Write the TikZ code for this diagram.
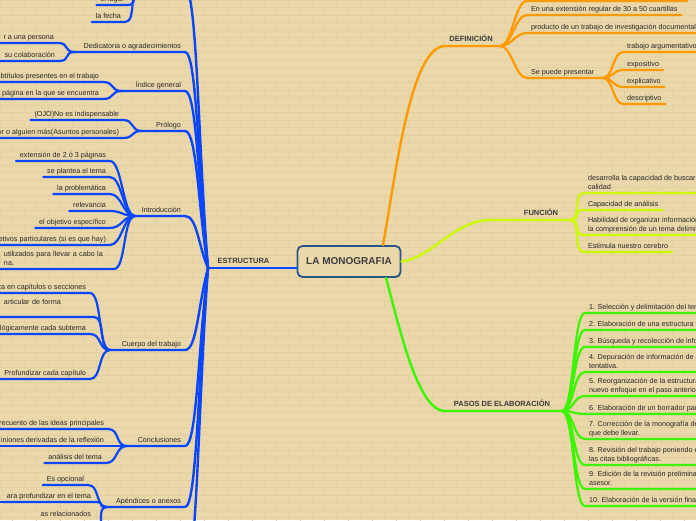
\documentclass[tikz,border=0pt]{standalone}
\usepackage{fontspec}
\setmainfont{Liberation Sans}
\usetikzlibrary{calc}

\definecolor{fondo}{RGB}{234,215,170}
\definecolor{junta}{RGB}{227,207,160}
\definecolor{texto}{RGB}{40,40,40}
\definecolor{titulo}{RGB}{60,60,60}
\definecolor{borde}{RGB}{40,85,135}
\definecolor{azul}{RGB}{10,70,255}
\definecolor{naranja}{RGB}{255,153,0}
\definecolor{lima}{RGB}{204,250,0}
\definecolor{verde}{RGB}{60,245,0}

\begin{document}
\begin{tikzpicture}[x=1pt, y=-1pt,
  hijo/.style={font=\fontsize{7.2}{9}\selectfont, text=texto, align=left,
    inner xsep=4pt, inner ysep=0.8pt, outer sep=0pt, execute at end node=\strut},
  rama/.style={hijo},
  titulo/.style={font=\bfseries\fontsize{7.5}{9}\selectfont, text=titulo, anchor=base},
  centro/.style={draw=borde, line width=1.8pt, fill=fondo, rounded corners=5pt,
    minimum width=103pt, minimum height=31pt, text=titulo,
    font=\bfseries\fontsize{10}{12}\selectfont},
  ladrillo/.style={draw=junta, line width=0.4pt},
  azul/.style={draw=azul, line width=2.4pt, line cap=round},
  azulh/.style={draw=azul, line width=2.2pt, line cap=round},
  naranja/.style={draw=naranja, line width=2.4pt, line cap=round},
  naranjah/.style={draw=naranja, line width=2.2pt, line cap=round},
  lima/.style={draw=lima, line width=2.4pt, line cap=round},
  limah/.style={draw=lima, line width=2.2pt, line cap=round},
  verde/.style={draw=verde, line width=2.4pt, line cap=round},
  verdeh/.style={draw=verde, line width=2.2pt, line cap=round}]

  \path[use as bounding box] (0,0) rectangle (696,520);
  \clip (0,0) rectangle (696,520);

  % fondo de ladrillos
  \fill[fondo] (0,0) rectangle (696,520);
  \foreach \f in {0,...,69}{
    \draw[ladrillo] (0,{\f*7.5}) -- (696,{\f*7.5});
    \foreach \c in {0,...,29}
      \draw[ladrillo] ({\c*24+mod(\f,2)*12},{\f*7.5}) -- ++(0,7.5);
  }

  % nodo central
  \node[centro] (mono) at (349,261.5) {LA MONOGRAFIA};

  % ---------------- ESTRUCTURA ----------------
  \coordinate (est) at (208,268);
  \node[titulo] (estlbl) at (243.5,263) {ESTRUCTURA};
  \draw[azul] (est) -- (est -| mono.west);

  \node[rama, anchor=south east] (dedic) at (185,52) {Dedicatoria o agradecimientos};
  \node[rama, anchor=south east] (indice) at (185,91) {Índice general};
  \node[rama, anchor=south east] (prologo) at (185,131) {Prólogo};
  \node[rama, anchor=south east] (intro) at (185,216) {Introducción};
  \node[rama, anchor=south east] (cuerpo) at (185,350) {Cuerpo del trabajo};
  \node[rama, anchor=south east] (concl) at (185,446) {Conclusiones};
  \node[rama, anchor=south east] (apend) at (185,507) {Apéndices o anexos};

  \coordinate (arriba) at (185,-12);
  \coordinate (abajo) at (185,575);
  \coordinate (harriba) at (140,-12);
  \coordinate (hdedic) at (75,52);
  \coordinate (hindice) at (122,91);
  \coordinate (hprologo) at (142,131);
  \coordinate (hintro) at (135,216);
  \coordinate (hcuerpo) at (110,350);
  \coordinate (hconcl) at (127,446);
  \coordinate (hapend) at (107,507);

  \foreach \r/\yb in {dedic/52, indice/91, prologo/131, intro/216, cuerpo/350, concl/446, apend/507}
    \draw[azul] (est) .. controls +(-10,{0.45*(\yb-268)}) and +(12,0) .. (\r.south east) -- (h\r);
  \draw[azul] (est) .. controls +(-10,{0.45*(-12-268)}) and +(12,0) .. (arriba) -- (harriba);
  \draw[azul] (est) .. controls +(-10,{0.45*(575-268)}) and +(12,0) .. (abajo);

  % hijos de la izquierda
  \node[hijo, anchor=south east] (ar1) at (128,5) {el lugar};
  \node[hijo, anchor=south east] (ar2) at (125,22) {la fecha};
  \node[hijo, anchor=south east] (de1) at (58,43) {r a una persona};
  \node[hijo, anchor=south east] (de2) at (59,61) {su colaboración};
  \node[hijo, anchor=south east] (in1) at (103,82) {ubtítulos presentes en el trabajo};
  \node[hijo, anchor=south east] (in2) at (103,99) {a página en la que se encuentra};
  \node[hijo, anchor=south east] (pr1) at (123,120) {(OJO)No es indispensable};
  \node[hijo, anchor=south east] (pr2) at (123,138) {tor o alguien más(Asuntos personales)};
  \node[hijo, anchor=south east] (it1) at (110,161) {extensión de 2 ó 3 páginas};
  \node[hijo, anchor=south east] (it2) at (110,177) {se plantea el tema};
  \node[hijo, anchor=south east] (it3) at (110,194) {la problemática};
  \node[hijo, anchor=south east] (it4) at (110,211) {relevancia};
  \node[hijo, anchor=south east] (it5) at (110,228) {el objetivo específico};
  \node[hijo, anchor=south east] (it6) at (110,245) {jetivos particulares (si es que hay)};
  \node[hijo, anchor=south east, text width=106pt] (it7) at (114,269) {utilizados para llevar a cabo la\\na.};
  \node[hijo, anchor=south east] (cu1) at (90,293) {za en capítulos o secciones};
  \node[hijo, anchor=south east, text width=86pt] (cu2) at (94,317) {articular de forma\\};
  \node[hijo, anchor=south east] (cu3) at (90,334) {lógicamente cada subtema};
  \node[hijo, anchor=south east] (cu4) at (90,379) {Profundizar cada capítulo};
  \node[hijo, anchor=south east] (co1) at (108,429) {recuento de las ideas principales};
  \node[hijo, anchor=south east] (co2) at (108,446) {iniones derivadas de la reflexión};
  \node[hijo, anchor=south east] (co3) at (106,463) {análisis del tema};
  \node[hijo, anchor=south east] (ap1) at (88,485) {Es opcional};
  \node[hijo, anchor=south east] (ap2) at (95,502) {ara profundizar en el tema};
  \node[hijo, anchor=south east] (ap3) at (95,529) {as relacionados\\};

  \foreach \h/\c in {harriba/ar1, harriba/ar2, hdedic/de1, hdedic/de2, hindice/in1, hindice/in2,
      hprologo/pr1, hprologo/pr2, hintro/it1, hintro/it2, hintro/it3, hintro/it4, hintro/it5,
      hintro/it6, hintro/it7, hcuerpo/cu1, hcuerpo/cu2, hcuerpo/cu3, hcuerpo/cu4,
      hconcl/co1, hconcl/co2, hconcl/co3, hapend/ap1, hapend/ap2, hapend/ap3}
    \draw[azulh] (\h) .. controls +(-12,0) and +(12,0) .. (\c.south east) -- (\c.south west);
  % lineas cortadas por el borde
  \foreach \c in {de1, de2, in1, in2, pr2, it6, it7, cu1, cu2, cu3, cu4, co1, co2, ap2, ap3}
    \draw[azulh] (\c.south west) -- ++(-20,0);

  % ---------------- DEFINICION ----------------
  \coordinate (hdef) at (500,46);
  \coordinate (hpres) at (603,78);
  \node[titulo] (deflbl) at (471,41.5) {DEFINICIÓN};
  \draw[naranja] ([xshift=34pt]mono.north) .. controls (395,180) and (410,46) .. (445,46) -- (hdef);

  \node[hijo, anchor=south west, minimum width=160pt] (d0) at (527,1) {};
  \node[hijo, anchor=south west] (d1) at (527,15) {En una extensión regular de 30 a 50 cuartillas};
  \node[hijo, anchor=south west] (d2) at (527,33) {producto de un trabajo de investigación documental};
  \node[hijo, anchor=south west] (d3) at (527,78) {Se puede presentar};
  \node[hijo, anchor=south west] (p1) at (623,52) {trabajo argumentativo};
  \node[hijo, anchor=south west] (p2) at (623,70) {expositivo};
  \node[hijo, anchor=south west] (p3) at (623,87) {explicativo};
  \node[hijo, anchor=south west] (p4) at (623,104) {descriptivo};

  \foreach \c in {d0, d1, d2}
    \draw[naranjah] (hdef) .. controls +(12,0) and +(-12,0) .. (\c.south west) -- (\c.south east);
  \draw[naranjah] (hdef) .. controls +(12,0) and +(-12,0) .. (d3.south west) -- (hpres);
  \foreach \c in {p1, p2, p3, p4}
    \draw[naranjah] (hpres) .. controls +(10,0) and +(-10,0) .. (\c.south west) -- (\c.south east);

  % ---------------- FUNCION ----------------
  \coordinate (hfun) at (570,220);
  \node[titulo] (funlbl) at (541,215.5) {FUNCIÓN};
  \draw[lima] (mono.east) .. controls (430,259) and (455,220) .. (490,220) -- (hfun);

  \node[hijo, anchor=south west] (f1) at (584,193) {desarrolla la capacidad de buscar información de\\calidad};
  \node[hijo, anchor=south west] (f2) at (584,210) {Capacidad de análisis};
  \node[hijo, anchor=south west] (f3) at (584,235) {Habilidad de organizar información y facilitar\\la comprensión de un tema delimitado};
  \node[hijo, anchor=south west] (f4) at (584,252) {Estimula nuestro cerebro};

  \foreach \c in {f1, f2, f3, f4}
    \draw[limah] (hfun) .. controls +(12,0) and +(-12,0) .. (\c.south west) -- (\c.south east);

  % ---------------- PASOS DE ELABORACION ----------------
  \coordinate (hpas) at (562,411);
  \node[titulo] (paslbl) at (502,406.5) {PASOS DE ELABORACIÓN};
  \draw[verde] ([xshift=37pt]mono.south) .. controls (400,330) and (418,411) .. (445,411) -- (hpas);

  \node[hijo, anchor=south west] (s1) at (585,313) {1. Selección y delimitación del tema};
  \node[hijo, anchor=south west] (s2) at (585,330) {2. Elaboración de una estructura tentativa};
  \node[hijo, anchor=south west] (s3) at (585,347) {3. Búsqueda y recolección de información};
  \node[hijo, anchor=south west] (s4) at (585,372) {4. Depuración de información de acuerdo con la estructura\\tentativa.};
  \node[hijo, anchor=south west] (s5) at (585,396) {5. Reorganización de la estructura de acuerdo con el\\nuevo enfoque en el paso anterior.};
  \node[hijo, anchor=south west] (s6) at (585,414) {6. Elaboración de un borrador para el asesor};
  \node[hijo, anchor=south west] (s7) at (585,439) {7. Corrección de la monografía de acuerdo a los puntos\\que debe llevar.};
  \node[hijo, anchor=south west] (s8) at (585,465) {8. Revisión del trabajo poniendo especial atención en\\las citas bibliográficas.};
  \node[hijo, anchor=south west] (s9) at (585,489) {9. Edición de la revisión preliminar con el\\asesor.};
  \node[hijo, anchor=south west] (s10) at (585,506) {10. Elaboración de la versión final.};

  \foreach \c in {s1, s2, s3, s4, s5, s6, s7, s8, s9, s10}
    \draw[verdeh] (hpas) .. controls +(12,0) and +(-12,0) .. (\c.south west) -- (\c.south east);
\end{tikzpicture}
\end{document}
